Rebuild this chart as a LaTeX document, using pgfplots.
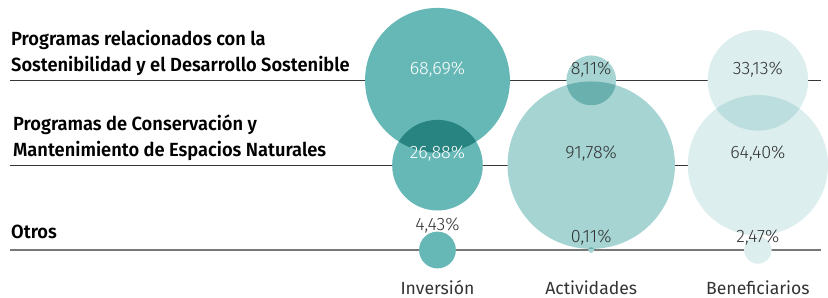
\documentclass[border=0pt]{standalone}
\usepackage{fontspec}
\setmainfont{Fira Sans}
\newfontfamily\numfont{Fira Sans Light}
\newfontfamily\labfont[FakeStretch=0.96]{Fira Sans SemiBold}
\usepackage{pgfplots}
\pgfplotsset{compat=1.18}
\usepackage{pgfplotstable}
\definecolor{inv}{RGB}{102,184,182}
\definecolor{act}{RGB}{165,212,211}
\definecolor{ben}{RGB}{220,238,238}
\definecolor{txt}{RGB}{51,51,51}
\definecolor{ln}{RGB}{55,55,55}
\definecolor{lnb}{RGB}{120,120,120}

% x = column centre, y = row (pixel units, downwards), v = share in %
\pgfplotstableread{
x y v
441 81 68.69
441 166.5 26.88
441 252 4.43
}\invtab
\pgfplotstableread{
x y v
596 81 8.11
596 166.5 91.78
596 252 0.11
}\acttab
\pgfplotstableread{
x y v
764 81 33.13
764 166.5 64.40
764 252 2.47
}\bentab

\pgfplotsset{
  bubbase/.style={scatter, only marks, mark=*,
    point meta=explicit, point meta min=0, point meta max=100},
  bub/.style={bubbase,
    scatter/@pre marker code/.code={%
      \pgfmathsetmacro\bubrad{6.606*sqrt(\pgfplotspointmetatransformed/10)}%
      \scope[/tikz/mark size=\bubrad pt, draw opacity=0, fill=#1, blend mode=multiply]},
    scatter/@post marker code/.code={\endscope}},
  knock/.style={bubbase,
    scatter/@pre marker code/.code={%
      \pgfmathsetmacro\bubrad{6.606*sqrt(\pgfplotspointmetatransformed/10)}%
      \scope[/tikz/mark size=\bubrad pt, draw opacity=0, fill=white]},
    scatter/@post marker code/.code={\endscope}},
  lab/.style={only marks, mark=none, nodes near coords, point meta=explicit symbolic,
    nodes near coords style={anchor=base, inner sep=0pt, text=#1,
      font=\numfont\fontsize{13.6pt}{16pt}\selectfont}},
}

\begin{document}
\begin{tikzpicture}
\begin{axis}[scale only axis, width=621pt, height=225pt,
  xmin=0, xmax=828, ymin=0, ymax=300, y dir=reverse,
  axis lines=none, ticks=none, clip=false]
% row lines
\addplot[ln, line width=0.8pt] coordinates {(10,81) (828,81)};
\addplot[ln, line width=0.8pt] coordinates {(10,166.5) (828,166.5)};
\addplot[lnb, line width=1.5pt] coordinates {(10,252) (828,252)};
% white under-layer hides the lines inside the bubbles
\addplot[knock] table[meta=v] {\invtab};
\addplot[knock] table[meta=v] {\acttab};
\addplot[knock] table[meta=v] {\bentab};
% bubbles (area proportional to value), multiplied so overlaps darken
\addplot[bub=inv] table[meta=v] {\invtab};
\addplot[bub=act] table[meta=v] {\acttab};
\addplot[bub=ben] table[meta=v] {\bentab};
% value labels
\addplot[lab=white] table[meta=l] {
x y l
441 75 68,69\%
441 160 26,88\%
};
\addplot[lab=txt] table[meta=l] {
x y l
441 232.7 4,43\%
596 75 8,11\%
596 160 91,78\%
596 244.3 0,11\%
764 75 33,13\%
764 160 64,40\%
764 244.3 2,47\%
};
% row labels
\begin{scope}[every node/.style={anchor=base west, inner sep=0pt, text=black,
    font=\labfont\fontsize{14.4pt}{17pt}\selectfont}]
\node at (axis cs:11,46) {Programas relacionados con la};
\node at (axis cs:11,72.5) {Sostenibilidad y el Desarrollo Sostenible};
\node at (axis cs:13,131.5) {Programas de Conservación y};
\node at (axis cs:13,157.5) {Mantenimiento de Espacios Naturales};
\node at (axis cs:11,240) {Otros};
\end{scope}
% column labels
\begin{scope}[every node/.style={anchor=base, inner sep=0pt, text=txt,
    font=\fontsize{13.3pt}{16pt}\selectfont}]
\node at (axis cs:441,296.5) {Inversión};
\node at (axis cs:596,296.5) {Actividades};
\node at (axis cs:764,296.5) {Beneficiarios};
\end{scope}
\path (axis cs:0,0) rectangle (axis cs:828,300);
\end{axis}
\end{tikzpicture}
\end{document}
